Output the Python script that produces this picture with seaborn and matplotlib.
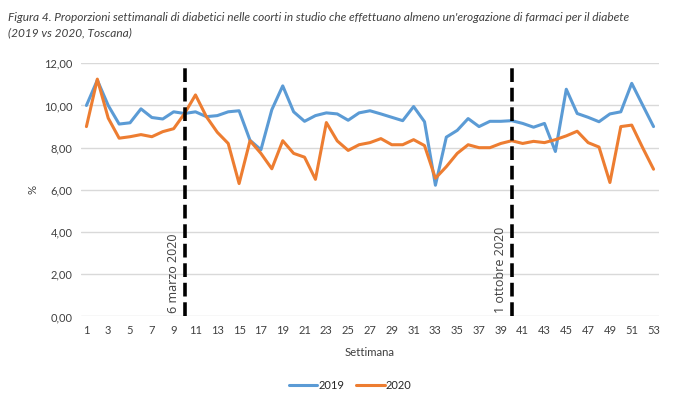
import numpy as np
import pandas as pd
import matplotlib.pyplot as plt
import seaborn as sns
from matplotlib.ticker import FuncFormatter

# ============================================================
# Dati: proporzioni settimanali (%) 2019 vs 2020
# ============================================================
settimane = list(range(1, 54))

val_2019 = [10.00, 11.20, 10.00, 9.12, 9.18, 9.84, 9.43, 9.36, 9.70, 9.62,
            9.70, 9.47, 9.52, 9.70, 9.75, 8.35, 7.90, 9.80, 10.93, 9.70,
            9.25, 9.52, 9.65, 9.60, 9.30, 9.65, 9.75, 9.60, 9.44, 9.28,
            9.95, 9.23, 6.22, 8.50, 8.82, 9.38, 9.00, 9.25, 9.25, 9.28,
            9.15, 8.97, 9.15, 7.82, 10.77, 9.62, 9.44, 9.23, 9.60, 9.70,
            11.05, 10.02, 9.00]

val_2020 = [9.00, 11.25, 9.40, 8.45, 8.52, 8.62, 8.52, 8.76, 8.90, 9.62,
            10.50, 9.47, 8.73, 8.20, 6.30, 8.33, 7.73, 7.00, 8.33, 7.73,
            7.55, 6.50, 9.19, 8.32, 7.87, 8.14, 8.24, 8.43, 8.14, 8.14,
            8.38, 8.10, 6.55, 7.10, 7.73, 8.14, 8.00, 8.00, 8.20, 8.33,
            8.20, 8.30, 8.24, 8.38, 8.56, 8.78, 8.24, 8.03, 6.35, 9.00,
            9.07, 8.00, 6.98]

anni = ["2019", "2020"]
colori = ["#5B9BD5", "#ED7D31"]

eventi_sett = [10, 40]
eventi_label = ["6 marzo 2020", "1 ottobre 2020"]

df = pd.DataFrame({
    "Settimana": settimane * 2,
    "valore": val_2019 + val_2020,
    "anno": [anni[0]] * len(val_2019) + [anni[1]] * len(val_2020),
})

# ============================================================
# Grafico
# ============================================================
sns.set_style("white")
plt.rcParams['font.family'] = ['Lato', 'DejaVu Sans']

fig = plt.figure(figsize=(6.77, 3.97), dpi=100)
ax = fig.add_axes([0.1196, 0.2028, 0.8538, 0.6378])

sns.lineplot(data=df, x="Settimana", y="valore", hue="anno",
             palette=colori, linewidth=2.2, ax=ax, legend=False)

for s, lab in zip(eventi_sett, eventi_label):
    ax.plot([s, s], [0, 12], color='black', linewidth=2.6,
            linestyle=(0, (3.8, 1.6)), zorder=5)
    ax.text(s - 0.45, 0.15, lab, rotation=90, ha='right', va='bottom',
            fontsize=9, color='#404040', family=['Open Sans', 'DejaVu Sans'])

ax.set_xlim(0.5, 53.5)
ax.set_ylim(0, 12)
ax.set_xticks(settimane[::2])
ax.set_yticks(np.arange(0, 13, 2))
ax.yaxis.set_major_formatter(FuncFormatter(lambda v, p: f"{v:.2f}".replace('.', ',')))
ax.tick_params(axis='both', length=0, labelsize=8, colors='#404040', pad=6)
ax.grid(axis='y', color='#D9D9D9', linewidth=1)
ax.grid(axis='x', visible=False)
sns.despine(ax=ax, left=True, bottom=True, top=True, right=True)

ax.set_xlabel("Settimana", fontsize=8.2, color='#404040', labelpad=8)
ax.set_ylabel("%", fontsize=8.2, color='#404040', labelpad=4)

handles = [plt.Line2D([], [], color=c, linewidth=2.2) for c in colori]
fig.legend(handles, anni, loc='center', bbox_to_anchor=(0.517, 0.028),
           ncol=2, frameon=False, fontsize=8, handlelength=2.6,
           handletextpad=0.1, columnspacing=1.0)

fig.text(0.012, 0.957, "Figura 4. Proporzioni settimanali di diabetici nelle coorti in studio che effettuano almeno un'erogazione di farmaci per il diabete",
         fontsize=8.6, style='italic', color='#404040', ha='left', va='center')
fig.text(0.012, 0.918, "(2019 vs 2020, Toscana)",
         fontsize=8.6, style='italic', color='#404040', ha='left', va='center')

plt.savefig("out.png", dpi=100)
plt.close()
